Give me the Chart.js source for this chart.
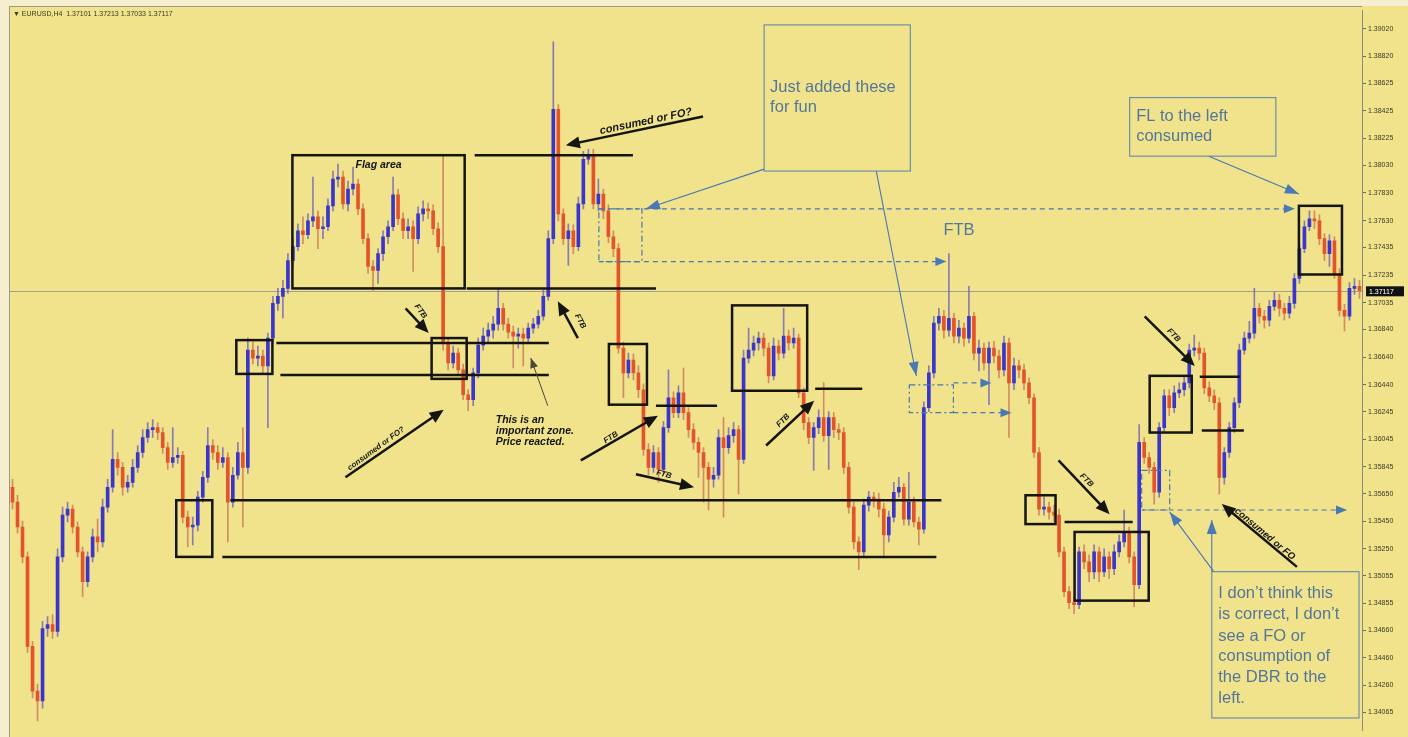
<!DOCTYPE html>
<html>
<head>
<meta charset="utf-8">
<script src="https://cdn.jsdelivr.net/npm/chart.js@4.4.0/dist/chart.umd.min.js"></script>
<style>
  html, body { margin: 0; padding: 0; background: #F0E38C; }
  canvas { display: block; }
</style>
</head>
<body>
<canvas id="chart" width="1408" height="737"></canvas>
<script>
// EURUSD H4 candles (open of each bar = previous close)
const symbolHeader = '\u25BC EURUSD,H4  1.37101 1.37213 1.37033 1.37117';
const lastPrice = 1.37117;
const firstOpen = 1.35696;

const closes = [
  1.35588, 1.35408, 1.35191, 1.34542, 1.34218, 1.34146, 1.34672, 1.34701, 1.34651, 1.35191,
  1.35494, 1.35537, 1.35408, 1.35227, 1.35011, 1.35191, 1.35336, 1.35300, 1.35552, 1.35696,
  1.35898, 1.35840, 1.35696, 1.35732, 1.35840, 1.35948, 1.36057, 1.36114, 1.36129, 1.36093,
  1.35984, 1.35876, 1.35912, 1.35927, 1.35480, 1.35408, 1.35422, 1.35624, 1.35768, 1.35999,
  1.35948, 1.35876, 1.35912, 1.35588, 1.35783, 1.35948, 1.35840, 1.36691, 1.36633, 1.36648,
  1.36576, 1.36778, 1.37030, 1.37080, 1.37138, 1.37340, 1.37441, 1.37556, 1.37527, 1.37628,
  1.37657, 1.37571, 1.37585, 1.37737, 1.37931, 1.37946, 1.37751, 1.37859, 1.37895, 1.37715,
  1.37499, 1.37297, 1.37268, 1.37390, 1.37513, 1.37585, 1.37816, 1.37643, 1.37556, 1.37585,
  1.37499, 1.37679, 1.37715, 1.37700, 1.37571, 1.37441, 1.36742, 1.36597, 1.36669, 1.36547,
  1.36367, 1.36331, 1.36525, 1.36727, 1.36792, 1.36835, 1.36879, 1.36994, 1.36879, 1.36821,
  1.36792, 1.36806, 1.36778, 1.36850, 1.36879, 1.36936, 1.37080, 1.37499, 1.38436, 1.37679,
  1.37499, 1.37556, 1.37441, 1.37751, 1.38075, 1.38111, 1.37751, 1.37823, 1.37700, 1.37513,
  1.37426, 1.36705, 1.36525, 1.36619, 1.36525, 1.36403, 1.35970, 1.35840, 1.35948, 1.35826,
  1.36129, 1.36345, 1.36237, 1.36381, 1.36237, 1.36114, 1.36021, 1.35948, 1.35840, 1.35754,
  1.35783, 1.36057, 1.35984, 1.36071, 1.36114, 1.35898, 1.36633, 1.36691, 1.36742, 1.36778,
  1.36705, 1.36504, 1.36720, 1.36669, 1.36792, 1.36742, 1.36778, 1.36381, 1.36165, 1.36057,
  1.36129, 1.36201, 1.36071, 1.36201, 1.36114, 1.36093, 1.35840, 1.35552, 1.35300, 1.35227,
  1.35566, 1.35624, 1.35610, 1.35537, 1.35350, 1.35480, 1.35660, 1.35696, 1.35465, 1.35588,
  1.35444, 1.35393, 1.36273, 1.36525, 1.36886, 1.36936, 1.36835, 1.36922, 1.36792, 1.36850,
  1.36778, 1.36936, 1.36669, 1.36705, 1.36597, 1.36705, 1.36648, 1.36547, 1.36742, 1.36453,
  1.36576, 1.36547, 1.36453, 1.36345, 1.35948, 1.35537, 1.35552, 1.35516, 1.35494, 1.35227,
  1.34939, 1.34860, 1.34845, 1.35227, 1.35155, 1.35083, 1.35227, 1.35083, 1.35191, 1.35105,
  1.35227, 1.35300, 1.35372, 1.35191, 1.34990, 1.36021, 1.35912, 1.35840, 1.35660, 1.36129,
  1.36359, 1.36273, 1.36381, 1.36403, 1.36453, 1.36691, 1.36705, 1.36669, 1.36417, 1.36359,
  1.36309, 1.35768, 1.35948, 1.36129, 1.36309, 1.36691, 1.36778, 1.36814, 1.36994, 1.36936,
  1.36907, 1.37008, 1.37052, 1.36994, 1.36958, 1.37030, 1.37210, 1.37426, 1.37585, 1.37643,
  1.37628, 1.37499, 1.37390, 1.37484, 1.37246, 1.36979, 1.36936, 1.37138, 1.37153, 1.37124
];

const highs = [
  1.35754, 1.35638, 1.35451, 1.35227, 1.34579, 1.34269, 1.34723, 1.34759, 1.34773, 1.35249,
  1.35552, 1.35588, 1.35566, 1.35444, 1.35263, 1.35227, 1.35393, 1.35465, 1.35610, 1.35754,
  1.36114, 1.35948, 1.35876, 1.35783, 1.35898, 1.35999, 1.36114, 1.36165, 1.36186, 1.36165,
  1.36129, 1.36021, 1.36129, 1.35984, 1.35956, 1.35523, 1.35480, 1.35667, 1.35811, 1.36129,
  1.36042, 1.35999, 1.35984, 1.35948, 1.35840, 1.36021, 1.36129, 1.36778, 1.36749, 1.36720,
  1.36691, 1.36814, 1.37080, 1.37138, 1.37196, 1.37390, 1.37499, 1.37607, 1.37657, 1.37679,
  1.37946, 1.37700, 1.37657, 1.37787, 1.37989, 1.38039, 1.37989, 1.37917, 1.38018, 1.37931,
  1.37751, 1.37535, 1.37340, 1.37426, 1.37556, 1.37628, 1.37946, 1.37859, 1.37686, 1.37643,
  1.37628, 1.37729, 1.37773, 1.37758, 1.37744, 1.37614, 1.38097, 1.36778, 1.36720, 1.36705,
  1.36590, 1.36403, 1.36561, 1.36778, 1.36850, 1.36886, 1.36936, 1.37138, 1.37030, 1.36922,
  1.36864, 1.36850, 1.36850, 1.36886, 1.36922, 1.36979, 1.37124, 1.37556, 1.38926, 1.38472,
  1.37715, 1.37607, 1.37600, 1.37801, 1.38133, 1.38147, 1.38147, 1.37931, 1.37859, 1.37744,
  1.37556, 1.37463, 1.36749, 1.36669, 1.36662, 1.36576, 1.36446, 1.36013, 1.35999, 1.35984,
  1.36172, 1.36547, 1.36388, 1.36432, 1.36561, 1.36273, 1.36158, 1.36057, 1.35984, 1.35876,
  1.35840, 1.36114, 1.36201, 1.36129, 1.36165, 1.36143, 1.36691, 1.36850, 1.36792, 1.36821,
  1.36814, 1.36742, 1.36778, 1.36763, 1.36994, 1.36835, 1.36850, 1.36806, 1.36417, 1.36201,
  1.36165, 1.36258, 1.36453, 1.36244, 1.36237, 1.36158, 1.36129, 1.35876, 1.35588, 1.35336,
  1.35610, 1.35667, 1.35660, 1.35653, 1.35581, 1.35523, 1.35732, 1.35768, 1.35725, 1.35804,
  1.35624, 1.35480, 1.36316, 1.36576, 1.36936, 1.36994, 1.36979, 1.37390, 1.36958, 1.36907,
  1.36886, 1.37153, 1.36965, 1.36763, 1.36742, 1.36749, 1.36756, 1.36691, 1.36792, 1.36778,
  1.36633, 1.36619, 1.36590, 1.36489, 1.36374, 1.35984, 1.35624, 1.35588, 1.35566, 1.35537,
  1.35263, 1.34975, 1.34903, 1.35263, 1.35278, 1.35206, 1.35278, 1.35263, 1.35249, 1.35227,
  1.35278, 1.35350, 1.35531, 1.35408, 1.35227, 1.36150, 1.36057, 1.35948, 1.35876, 1.36165,
  1.36403, 1.36403, 1.36432, 1.36453, 1.36504, 1.36734, 1.36799, 1.36749, 1.36705, 1.36460,
  1.36403, 1.36345, 1.35984, 1.36165, 1.36345, 1.36734, 1.36821, 1.36900, 1.37138, 1.37030,
  1.36979, 1.37052, 1.37109, 1.37095, 1.37030, 1.37080, 1.37246, 1.37463, 1.37628, 1.37700,
  1.37700, 1.37672, 1.37535, 1.37527, 1.37513, 1.37282, 1.37023, 1.37181, 1.37210, 1.37196
];

const lows = [
  1.35537, 1.35364, 1.35148, 1.34499, 1.34168, 1.34002, 1.34095, 1.34615, 1.34600, 1.34615,
  1.35155, 1.35444, 1.35364, 1.35191, 1.34903, 1.34975, 1.35155, 1.35227, 1.35263, 1.35516,
  1.35660, 1.35783, 1.35638, 1.35660, 1.35696, 1.35804, 1.35912, 1.36021, 1.36057, 1.36042,
  1.35941, 1.35826, 1.35840, 1.35869, 1.35437, 1.35263, 1.35278, 1.35379, 1.35588, 1.35732,
  1.35898, 1.35826, 1.35840, 1.35300, 1.35552, 1.35754, 1.35408, 1.35797, 1.36590, 1.36576,
  1.36525, 1.36129, 1.36742, 1.36979, 1.36922, 1.37102, 1.37297, 1.37412, 1.37463, 1.37499,
  1.37585, 1.37426, 1.37499, 1.37556, 1.37700, 1.37874, 1.37715, 1.37700, 1.37816, 1.37672,
  1.37463, 1.37246, 1.37124, 1.37174, 1.37340, 1.37463, 1.37556, 1.37600, 1.37499, 1.37499,
  1.37261, 1.37463, 1.37628, 1.37643, 1.37527, 1.37398, 1.36691, 1.36547, 1.36561, 1.36504,
  1.36331, 1.36251, 1.36287, 1.36489, 1.36691, 1.36742, 1.36778, 1.36835, 1.36835, 1.36778,
  1.36561, 1.36705, 1.36576, 1.36742, 1.36814, 1.36850, 1.36907, 1.37052, 1.37463, 1.37628,
  1.37455, 1.37304, 1.37390, 1.37412, 1.37715, 1.38039, 1.37715, 1.37700, 1.37643, 1.37470,
  1.37369, 1.36669, 1.36345, 1.36489, 1.36475, 1.36345, 1.35927, 1.35783, 1.35804, 1.35732,
  1.35797, 1.36093, 1.36201, 1.36201, 1.36186, 1.36057, 1.35970, 1.35768, 1.35588, 1.35531,
  1.35696, 1.35754, 1.35480, 1.35941, 1.36021, 1.35646, 1.35869, 1.36597, 1.36648, 1.36691,
  1.36648, 1.36453, 1.36475, 1.36619, 1.36633, 1.36691, 1.36705, 1.36345, 1.36114, 1.36013,
  1.35819, 1.36085, 1.36028, 1.35826, 1.36057, 1.36042, 1.35797, 1.35509, 1.35249, 1.35098,
  1.35191, 1.35523, 1.35552, 1.35480, 1.35184, 1.35300, 1.35444, 1.35624, 1.35422, 1.35422,
  1.35408, 1.35278, 1.35364, 1.36244, 1.36489, 1.36835, 1.36778, 1.36792, 1.36742, 1.36742,
  1.36720, 1.36742, 1.36619, 1.36540, 1.36547, 1.36295, 1.36597, 1.36489, 1.36504, 1.36057,
  1.36403, 1.36489, 1.36403, 1.36302, 1.35912, 1.35494, 1.35494, 1.35465, 1.35451, 1.35191,
  1.34903, 1.34816, 1.34780, 1.34816, 1.35105, 1.35011, 1.35033, 1.35011, 1.35047, 1.35033,
  1.35062, 1.35191, 1.35263, 1.35148, 1.34831, 1.34961, 1.35869, 1.35797, 1.35574, 1.35624,
  1.36093, 1.36215, 1.36237, 1.36345, 1.36359, 1.36417, 1.36648, 1.36619, 1.36374, 1.36316,
  1.36258, 1.35646, 1.35718, 1.35912, 1.36093, 1.36273, 1.36662, 1.36742, 1.36778, 1.36886,
  1.36850, 1.36864, 1.36979, 1.36936, 1.36907, 1.36922, 1.36994, 1.37174, 1.37398, 1.37556,
  1.37571, 1.37455, 1.37340, 1.37297, 1.37210, 1.36936, 1.36828, 1.36907, 1.37095, 1.37066
];

// price axis
const priceMin = 1.33930;
const priceMax = 1.39157;
const priceTicks = [
  1.39020, 1.38820, 1.38625, 1.38425, 1.38225, 1.38030, 1.37830, 1.37630, 1.37435,
  1.37235, 1.37035, 1.36840, 1.36640, 1.36440, 1.36245, 1.36045, 1.35845, 1.35650,
  1.35450, 1.35250, 1.35055, 1.34855, 1.34660, 1.34460, 1.34260, 1.34065
];

const opens = closes.map((c, i) => i === 0 ? firstOpen : closes[i - 1]);
const bars = closes.map((c, i) => String(i));

const UP = '#3A36CC', DOWN = '#E4542C';
const UP_WICK = 'rgba(120,105,185,0.85)', DOWN_WICK = 'rgba(205,125,90,0.85)';
const isUp = closes.map((c, i) => c >= opens[i]);

// markup drawn over the chart, in bar index / price units
const blackBoxes = [
  [32.7, 39.9, 1.35602, 1.35191], [44.7, 51.9, 1.36763, 1.36518],
  [55.9, 90.3, 1.38104, 1.37138], [83.7, 90.7, 1.36778, 1.36482],
  [119.1, 126.7, 1.36735, 1.36295], [143.7, 158.7, 1.37015, 1.36396],
  [202.3, 208.3, 1.35638, 1.35429], [212.1, 226.9, 1.35372, 1.34874],
  [227.1, 235.5, 1.36504, 1.36093], [256.9, 265.5, 1.37737, 1.37239]
];
const blackLines = [
  [52.7, 107.1, 1.36742], [53.5, 107.1, 1.36511], [92.3, 123.9, 1.38104],
  [90.7, 128.5, 1.37138], [43.5, 185.5, 1.35602], [41.9, 184.5, 1.35191],
  [128.5, 140.7, 1.36287], [160.3, 169.7, 1.36410], [210.1, 223.7, 1.35444],
  [237.1, 245.1, 1.36497], [237.5, 245.9, 1.36108]
];
const blackArrows = [
  { from: [78.5, 1.36994], to: [83.1, 1.36814], text: 'FTB', at: [81.5, 1.36972], angle: 55, size: 8 },
  { from: [112.9, 1.36778], to: [108.9, 1.37045], text: 'FTB', at: [113.4, 1.36900], angle: 62, size: 8 },
  { from: [66.5, 1.35768], to: [86.1, 1.36258], text: 'consumed or FO?', at: [72.6, 1.35975], angle: -36, size: 8 },
  { from: [137.9, 1.38385], to: [110.5, 1.38176], text: 'consumed or FO?', at: [126.5, 1.38349], angle: -12, size: 11 },
  { from: [113.5, 1.35891], to: [128.9, 1.36215], text: 'FTB', at: [119.5, 1.36057], angle: -32, size: 8 },
  { from: [124.5, 1.35790], to: [136.1, 1.35696], text: 'FTB', at: [130.1, 1.35790], angle: 15, size: 8 },
  { from: [150.5, 1.35999], to: [160.1, 1.36324], text: 'FTB', at: [153.9, 1.36180], angle: -45, size: 8 },
  { from: [208.9, 1.35891], to: [219.1, 1.35501], text: 'FTB', at: [214.5, 1.35747], angle: 45, size: 8 },
  { from: [226.1, 1.36936], to: [236.1, 1.36576], text: 'FTB', at: [231.9, 1.36799], angle: 45, size: 8 },
  { from: [256.5, 1.35119], to: [241.5, 1.35574], text: 'consumed or FO', at: [250.1, 1.35357], angle: 40, size: 9.5 }
];
const blackNotes = [
  { text: 'Flag area', at: [73.1, 1.38032], align: 'center' },
  { text: 'This is an', at: [96.5, 1.36186], align: 'left' },
  { text: 'important zone.', at: [96.5, 1.36100], align: 'left' },
  { text: 'Price reacted.', at: [96.5, 1.36021], align: 'left' }
];
const blueBoxes = [
  { box: [150.1, 179.3, 1.39049, 1.37989], lines: ['Just added these', 'for fun'], at: [151.3, [1.38595, 1.38450]] },
  { box: [223.1, 252.3, 1.38522, 1.38097], lines: ['FL to the left', 'consumed'], at: [224.4, [1.38385, 1.38241]] },
  { box: [239.5, 268.9, 1.35084, 1.34023],
    lines: ['I don\u2019t think this', 'is correct, I don\u2019t', 'see a FO or', 'consumption of', 'the DBR to the', 'left.'],
    at: [240.8, [1.34925, 1.34773, 1.34615, 1.34470, 1.34319, 1.34168]] }
];
const blueArrows = [
  { from: [150.1, 1.38003], to: [126.5, 1.37715] },
  { from: [172.5, 1.37989], to: [180.5, 1.36504] },
  { from: [238.9, 1.38097], to: [256.9, 1.37823] },
  { from: [239.5, 1.35084], to: [239.5, 1.35458] },
  { from: [239.9, 1.35084], to: [231.1, 1.35516] }
];
const blueDashArrows = [
  [117.1, 256.1, 1.37715], [117.1, 186.5, 1.37333],
  [187.9, 195.5, 1.36453], [187.9, 199.5, 1.36237], [225.5, 266.5, 1.35531]
];
const blueDashBoxes = [
  [117.1, 125.7, 1.37715, 1.37333], [179.1, 187.9, 1.36439, 1.36237], [225.5, 231.1, 1.35819, 1.35531]
];

function arrowHead(ctx, x0, y0, x1, y1, len, wid) {
  const a = Math.atan2(y1 - y0, x1 - x0);
  const bx = x1 - len * Math.cos(a), by = y1 - len * Math.sin(a);
  ctx.beginPath();
  ctx.moveTo(x1, y1);
  ctx.lineTo(bx + wid * Math.sin(a), by - wid * Math.cos(a));
  ctx.lineTo(bx - wid * Math.sin(a), by + wid * Math.cos(a));
  ctx.closePath();
  ctx.fill();
}

const framePlugin = {
  id: 'frame',
  beforeDraw(chart) {
    const ctx = chart.ctx, a = chart.chartArea;
    ctx.save();
    ctx.fillStyle = '#F0E38C';
    ctx.fillRect(0, 0, chart.width, chart.height);
    ctx.fillStyle = '#F5EFD0';
    ctx.fillRect(0, 0, chart.width, 6);
    ctx.fillRect(0, 0, a.left - 1, chart.height);
    ctx.strokeStyle = '#9a9a86';
    ctx.lineWidth = 1;
    ctx.beginPath();
    ctx.moveTo(a.left - 0.5, 6.5);
    ctx.lineTo(a.right, 6.5);
    ctx.moveTo(a.left - 0.5, 6.5);
    ctx.lineTo(a.left - 0.5, chart.height);
    ctx.stroke();
    // bid line
    const y = Math.round(chart.scales.y.getPixelForValue(lastPrice)) + 0.5;
    ctx.strokeStyle = '#a09f92';
    ctx.beginPath();
    ctx.moveTo(a.left, y);
    ctx.lineTo(a.right, y);
    ctx.stroke();
    ctx.restore();
  },
  afterDraw(chart) {
    const ctx = chart.ctx, a = chart.chartArea;
    ctx.save();
    ctx.fillStyle = '#3b3a28';
    ctx.font = '7px "Liberation Sans"';
    ctx.textBaseline = 'middle';
    ctx.fillText(symbolHeader, a.left + 3, 14);
    const y = chart.scales.y.getPixelForValue(lastPrice);
    ctx.fillStyle = '#111';
    ctx.fillRect(a.right + 4, y - 5, 38, 10);
    ctx.fillStyle = '#fff';
    ctx.fillText(lastPrice.toFixed(5), a.right + 7, y + 0.5);
    ctx.restore();
  }
};

const markupPlugin = {
  id: 'markup',
  afterDatasetsDraw(chart) {
    const ctx = chart.ctx;
    const X = v => chart.scales.x.getPixelForValue(v);
    const Y = v => chart.scales.y.getPixelForValue(v);
    ctx.save();

    // blue dashed helpers
    ctx.strokeStyle = '#4a78b4';
    ctx.fillStyle = '#4a78b4';
    ctx.lineWidth = 1.2;
    ctx.setLineDash([6, 3, 2, 3]);
    blueDashBoxes.forEach(b => {
      ctx.strokeRect(X(b[0]), Y(b[2]), X(b[1]) - X(b[0]), Y(b[3]) - Y(b[2]));
    });
    ctx.setLineDash([5, 4]);
    blueDashArrows.forEach(l => {
      const x0 = X(l[0]), x1 = X(l[1]), y = Y(l[2]);
      ctx.beginPath();
      ctx.moveTo(x0, y);
      ctx.lineTo(x1 - 8, y);
      ctx.stroke();
      arrowHead(ctx, x0, y, x1, y, 11, 4.5);
    });
    ctx.setLineDash([]);

    // blue text boxes
    blueBoxes.forEach(b => {
      ctx.strokeStyle = '#6f8fa8';
      ctx.lineWidth = 1.2;
      ctx.strokeRect(X(b.box[0]), Y(b.box[2]), X(b.box[1]) - X(b.box[0]), Y(b.box[3]) - Y(b.box[2]));
      ctx.fillStyle = '#54769c';
      ctx.font = '16.5px "Liberation Sans"';
      ctx.textBaseline = 'middle';
      ctx.textAlign = 'left';
      b.lines.forEach((t, k) => ctx.fillText(t, X(b.at[0]), Y(b.at[1][k])));
    });
    ctx.fillText('FTB', X(185.9), Y(1.37556));

    ctx.strokeStyle = '#4a78b4';
    ctx.fillStyle = '#4a78b4';
    ctx.lineWidth = 1.1;
    blueArrows.forEach(r => {
      const x0 = X(r.from[0]), y0 = Y(r.from[1]), x1 = X(r.to[0]), y1 = Y(r.to[1]);
      ctx.beginPath();
      ctx.moveTo(x0, y0);
      ctx.lineTo(x1, y1);
      ctx.stroke();
      arrowHead(ctx, x0, y0, x1, y1, 14, 5);
    });

    // black boxes and levels
    ctx.strokeStyle = '#141410';
    ctx.lineWidth = 2.5;
    blackBoxes.forEach(b => {
      ctx.strokeRect(X(b[0]), Y(b[2]), X(b[1]) - X(b[0]), Y(b[3]) - Y(b[2]));
    });
    blackLines.forEach(l => {
      ctx.beginPath();
      ctx.moveTo(X(l[0]), Y(l[2]));
      ctx.lineTo(X(l[1]), Y(l[2]));
      ctx.stroke();
    });

    // black arrows with labels
    ctx.fillStyle = '#141410';
    blackArrows.forEach(r => {
      const x0 = X(r.from[0]), y0 = Y(r.from[1]), x1 = X(r.to[0]), y1 = Y(r.to[1]);
      const a = Math.atan2(y1 - y0, x1 - x0);
      ctx.lineWidth = 2.5;
      ctx.beginPath();
      ctx.moveTo(x0, y0);
      ctx.lineTo(x1 - 8 * Math.cos(a), y1 - 8 * Math.sin(a));
      ctx.stroke();
      arrowHead(ctx, x0, y0, x1, y1, 14, 6);
      ctx.save();
      ctx.translate(X(r.at[0]), Y(r.at[1]));
      ctx.rotate(r.angle * Math.PI / 180);
      ctx.font = 'italic bold ' + r.size + 'px "Liberation Sans"';
      ctx.textAlign = 'center';
      ctx.textBaseline = 'middle';
      ctx.fillText(r.text, 0, 0);
      ctx.restore();
    });

    ctx.font = 'italic bold 10.5px "Liberation Sans"';
    ctx.textBaseline = 'middle';
    blackNotes.forEach(n => {
      ctx.textAlign = n.align;
      ctx.fillText(n.text, X(n.at[0]), Y(n.at[1]));
    });

    // thin pointer from the note
    ctx.strokeStyle = '#4a4a3a';
    ctx.fillStyle = '#4a4a3a';
    ctx.lineWidth = 1;
    const px0 = X(106.9), py0 = Y(1.36287), px1 = X(103.5), py1 = Y(1.36633);
    ctx.beginPath();
    ctx.moveTo(px0, py0);
    ctx.lineTo(px1, py1);
    ctx.stroke();
    arrowHead(ctx, px0, py0, px1, py1, 10, 4);

    ctx.restore();
  }
};

new Chart(document.getElementById('chart'), {
  type: 'bar',
  data: {
    labels: bars,
    datasets: [
      {
        label: 'body',
        data: opens.map((o, i) => [o, closes[i]]),
        backgroundColor: isUp.map(u => u ? UP : DOWN),
        barThickness: 3,
        minBarLength: 1,
        grouped: false,
        order: 1
      },
      {
        label: 'wick',
        data: lows.map((l, i) => [l, highs[i]]),
        backgroundColor: isUp.map(u => u ? UP_WICK : DOWN_WICK),
        barThickness: 1,
        grouped: false,
        order: 2
      }
    ]
  },
  options: {
    responsive: false,
    animation: false,
    devicePixelRatio: 1,
    layout: { padding: { left: 10, top: 10, right: 0, bottom: 2 } },
    plugins: { legend: { display: false }, tooltip: { enabled: false } },
    scales: {
      x: { display: false, offset: true, grid: { display: false } },
      y: {
        position: 'right',
        min: priceMin,
        max: priceMax,
        afterFit: s => { s.width = 46; },
        afterBuildTicks: s => { s.ticks = priceTicks.map(v => ({ value: v })); },
        grid: { drawOnChartArea: false, tickLength: 4, color: '#6d6c5c' },
        border: { color: '#8c8b7c' },
        ticks: {
          autoSkip: false,
          padding: 2,
          color: '#3b3a28',
          font: { family: 'Liberation Sans', size: 7 },
          callback: v => Number(v).toFixed(5)
        }
      }
    }
  },
  plugins: [framePlugin, markupPlugin]
});
</script>
</body>
</html>
